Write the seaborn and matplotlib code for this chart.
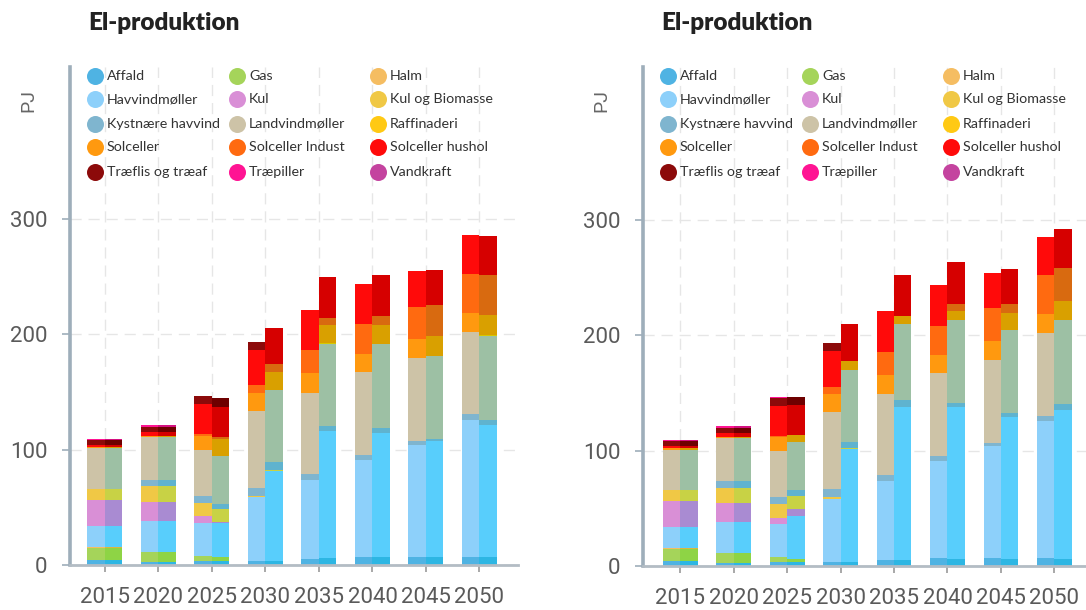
import numpy as np
import matplotlib
matplotlib.use("Agg")
import matplotlib.pyplot as plt
import seaborn as sns

# ---------------------------------------------------------------- data (PJ)
years = [2015, 2020, 2025, 2030, 2035, 2040, 2045, 2050]
sources = ["Affald", "Gas", "Halm", "Havvindmøller", "Kul", "Kul og Biomasse",
           "Kystnære havvind", "Landvindmøller", "Raffinaderi", "Solceller",
           "Solceller Indust", "Solceller hushol", "Træflis og træaf",
           "Træpiller", "Vandkraft"]

# reference scenario (left bar of each pair, shown in both charts)
ref_affald = [4, 3, 3.5, 3.5, 5, 7, 7, 7]
ref_gas = [11, 8.5, 4, 0, 0, 0, 0, 0]
ref_halm = [1, 0, 0.5, 0, 0, 0, 0, 0]
ref_havvind = [18, 27, 28, 55, 69, 84, 97, 118.5]
ref_kul = [22, 16, 6, 0, 0, 0, 0, 0]
ref_kulbio = [10, 13.5, 12, 1, 0, 0, 0, 0]
ref_kyst = [0, 5.5, 6, 7, 5, 4, 3, 5]
ref_landvind = [35, 37.5, 40, 67, 70, 72, 72, 71.5]
ref_raffinaderi = [0, 0, 0, 0, 0, 0, 0, 0]
ref_sol = [1, 0.5, 12, 15.5, 17, 16, 16.5, 16.5]
ref_sol_indust = [0, 0, 1, 6.5, 20, 25.5, 28, 33.5]
ref_sol_hushol = [2, 4, 26, 31, 35, 35, 31, 33.5]
ref_traeflis = [4, 4, 7, 6.5, 0, 0, 0, 0]
ref_traepiller = [1, 1.5, 0.5, 0, 0, 0, 0, 0]
ref_vandkraft = [0, 0, 0, 0, 0, 0, 0, 0]

# first alternative (right bar of each pair, left chart)
alt1_affald = [4, 3, 3.5, 3.5, 6, 7, 7, 7]
alt1_gas = [11, 8.5, 3.7, 0, 0, 0, 0, 0]
alt1_halm = [1, 0, 0, 0, 0, 0, 0, 0]
alt1_havvind = [18, 27, 29, 78, 110, 107.5, 100, 114]
alt1_kul = [22, 16, 1, 0, 0, 0, 0, 0]
alt1_kulbio = [10, 13.5, 11, 1, 0, 0, 0, 0]
alt1_kyst = [0, 5.5, 5, 7, 4, 4, 2, 4.3]
alt1_landvind = [35, 37.5, 41, 62, 71, 73, 72, 73]
alt1_raffinaderi = [0, 0, 0, 0, 1, 0, 0, 1]
alt1_sol = [1, 0.5, 14.5, 16, 15.5, 16.5, 17, 17]
alt1_sol_indust = [0, 0, 2, 6.5, 6.5, 8, 27, 34.5]
alt1_sol_hushol = [2, 4, 26, 31, 35, 35.5, 30, 34.5]
alt1_traeflis = [4, 4, 8, 0, 0, 0, 0, 0]
alt1_traepiller = [1, 1.5, 0, 0, 0, 0, 0, 0]
alt1_vandkraft = [0, 0, 0, 0, 0, 0, 0, 0]

# second alternative (right bar of each pair, right chart)
alt2_affald = [4, 3, 3.5, 3.7, 5, 6.5, 6.5, 6.5]
alt2_gas = [11, 8.5, 3, 0, 0, 0, 0, 0]
alt2_halm = [1, 0, 0, 0, 0, 0, 0, 0]
alt2_havvind = [18, 27, 37, 98, 133, 131, 123, 129]
alt2_kul = [22, 16, 6, 0, 0, 0, 0, 0]
alt2_kulbio = [10, 13.5, 11.5, 1, 0, 0, 0, 0]
alt2_kyst = [0, 5.5, 5, 5, 6, 4, 3, 5]
alt2_landvind = [35, 37.5, 41.5, 62.6, 66, 72, 72, 73]
alt2_raffinaderi = [0, 0, 0, 0, 0, 0, 0, 0]
alt2_sol = [1, 0.5, 6.5, 7.4, 7, 7.8, 14.5, 16]
alt2_sol_indust = [0, 0, 0, 0, 0, 6, 8, 29]
alt2_sol_hushol = [2, 4, 26, 32, 35.6, 36, 30.4, 34]
alt2_traeflis = [4, 4, 6.4, 0, 0, 0, 0, 0]
alt2_traepiller = [1, 1.5, 0, 0, 0, 0, 0, 0]
alt2_vandkraft = [0, 0, 0, 0, 0, 0, 0, 0]

ref_layers = [ref_affald, ref_gas, ref_halm, ref_havvind, ref_kul, ref_kulbio,
              ref_kyst, ref_landvind, ref_raffinaderi, ref_sol, ref_sol_indust,
              ref_sol_hushol, ref_traeflis, ref_traepiller, ref_vandkraft]
alt1_layers = [alt1_affald, alt1_gas, alt1_halm, alt1_havvind, alt1_kul, alt1_kulbio,
               alt1_kyst, alt1_landvind, alt1_raffinaderi, alt1_sol, alt1_sol_indust,
               alt1_sol_hushol, alt1_traeflis, alt1_traepiller, alt1_vandkraft]
alt2_layers = [alt2_affald, alt2_gas, alt2_halm, alt2_havvind, alt2_kul, alt2_kulbio,
               alt2_kyst, alt2_landvind, alt2_raffinaderi, alt2_sol, alt2_sol_indust,
               alt2_sol_hushol, alt2_traeflis, alt2_traepiller, alt2_vandkraft]

# legend / reference colours and the shifted shades used for the alternative bars
colors_ref = ["#4fb3e3", "#a5d45a", "#f5bd62", "#8dd0fa", "#d98fd6", "#f0c845",
              "#7fb5cf", "#cdc3a7", "#ffc914", "#ff990f", "#ff6a10", "#ff0a0a",
              "#8c0a0a", "#ff1493", "#c4439f"]
colors_alt = ["#2db6e3", "#8ed445", "#dcb540", "#58cefc", "#a98bd2", "#c8d245",
              "#5fb3cf", "#9dc0a4", "#d8c800", "#d9a000", "#d86a10", "#d60000",
              "#6e0000", "#d41080", "#a0409f"]

# ---------------------------------------------------------------- styling
sns.set_theme(style="white")
plt.rcParams["font.family"] = ["Roboto", "DejaVu Sans"]

W, H = 1086, 610
fig = plt.figure(figsize=(W / 100, H / 100), dpi=100)

AXIS_COL = "#9eaeba"
GRID_COL = "#e6e6e6"
TICK_COL = "#5a5a5a"
BAR_W = 0.327


def px_axes(left, right, top, bottom):
    return fig.add_axes([left / W, (H - bottom) / H, (right - left) / W, (bottom - top) / H])


def draw_panel(ax, left_layers, right_layers, x_lim, y_top):
    xpos = np.arange(len(years), dtype=float)
    for offset, layers, palette in ((-BAR_W / 2, left_layers, colors_ref),
                                    (BAR_W / 2, right_layers, colors_alt)):
        bottom = np.zeros(len(years))
        for vals, col in zip(layers, palette):
            vals = np.asarray(vals, dtype=float)
            sns.barplot(x=xpos + offset, y=vals, bottom=bottom.copy(),
                        native_scale=True, orient="x", width=BAR_W, color=col,
                        saturation=1, linewidth=0, errorbar=None, ax=ax)
            bottom += vals

    ax.set_xlim(*x_lim)
    ax.set_ylim(0, y_top)
    ax.set_xticks(xpos)
    ax.set_xticklabels([str(y) for y in years])
    ax.set_yticks([0, 100, 200, 300])
    ax.set_xlabel("")
    ax.set_ylabel("")

    ax.set_axisbelow(True)
    ax.grid(True, linestyle=(0, (8, 5)), color=GRID_COL, linewidth=1)
    for side in ("top", "right"):
        ax.spines[side].set_visible(False)
    ax.spines["left"].set_color(AXIS_COL)
    ax.spines["left"].set_linewidth(2.6)
    ax.spines["bottom"].set_color("#b3bcc4")
    ax.spines["bottom"].set_linewidth(2.0)

    ax.tick_params(axis="y", length=5.8, width=1.2, color=AXIS_COL, pad=10.5,
                   labelsize=16, labelcolor=TICK_COL, left=True)
    ax.tick_params(axis="x", length=5, width=1.2, color="#9a9a9a", pad=11,
                   labelsize=16, labelcolor=TICK_COL, bottom=True)


def draw_legend(ax, top_px, bottom_px, ax_left, ax_right):
    col_x = [25, 167, 308]
    row_y = [76, 99, 124, 147, 172]
    span_x = ax_right - ax_left
    span_y = bottom_px - top_px
    for i, (name, col) in enumerate(zip(sources, colors_ref)):
        r, c = divmod(i, 3)
        fx = col_x[c] / span_x
        fy = (bottom_px - row_y[r]) / span_y
        ax.scatter([fx], [fy], s=150, color=col, transform=ax.transAxes,
                   clip_on=False, zorder=5, linewidths=0)
        ax.text(fx + 12 / span_x, fy, name, transform=ax.transAxes,
                ha="left", va="center", fontsize=10.3, color="#333333",
                family=["Lato", "DejaVu Sans"])


panels = [
    # axis pixel box, x-limits, y-top, layers of the right bar
    dict(box=(70, 518, 67, 565), xlim=(-0.654, 7.72), ytop=431.2, alt=alt1_layers),
    dict(box=(643, 1086, 67, 566), xlim=(-0.692, 7.589), ytop=432.7, alt=alt2_layers),
]

for p in panels:
    left, right, top, bottom = p["box"]
    ax = px_axes(left, right, top, bottom)
    draw_panel(ax, ref_layers, p["alt"], p["xlim"], p["ytop"])
    draw_legend(ax, top, bottom, left, right)
    fig.text((left + 18) / W, 1 - 23 / H, "El-produktion", ha="left", va="center",
             fontsize=17.5, fontweight="heavy", color="#222222",
             family=["Lato", "DejaVu Sans"])
    fig.text((left - 42) / W, 1 - 100 / H, "PJ", ha="center", va="center",
             rotation=90, fontsize=14, color="#666666")

fig.savefig("out.png", dpi=100)
